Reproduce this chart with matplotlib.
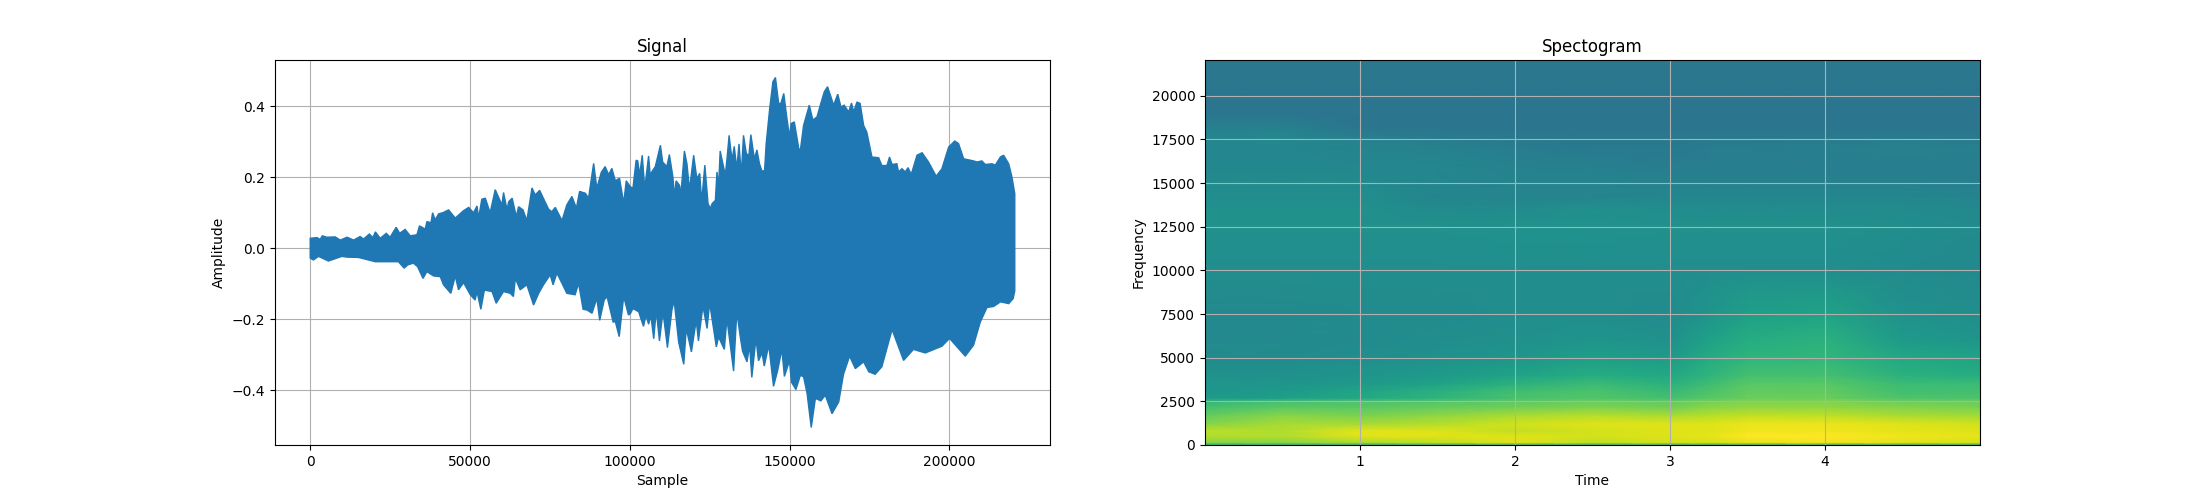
import numpy as np
import matplotlib
matplotlib.use("Agg")
import matplotlib.pyplot as plt

# Signal envelope (sample position in thousands)
upper_pos = [0, 2.1, 3.1, 3.8, 5.2, 7.8, 9.4, 11.5, 13.6, 15.6, 16.7, 18.5, 19.6, 20.4, 21.9, 23.8, 25.0, 26.9, 28.0, 29.7,
             31.3, 33.4, 34.2, 36.0, 36.5, 37.8, 38.3, 39.1, 40.2, 41.5, 43.3, 45.4, 48.0, 49.6, 51.1, 52.2, 52.7, 53.7, 54.8, 56.3,
             57.9, 60.0, 60.5, 61.6, 62.1, 63.2, 64.5, 65.2, 66.6, 67.8, 69.4, 70.4, 71.8, 74.6, 75.6, 76.7, 78.8, 80.3, 81.9, 83.3,
             84.3, 86.1, 87.1, 88.7, 89.7, 91.1, 92.3, 93.4, 94.4, 95.5, 96.8, 98.1, 98.9,
             100.2, 101.0, 102.0, 102.5, 103.1, 103.9, 104.7, 105.9, 106.4, 106.9, 108.0, 109.6, 110.3, 111.6, 112.4, 113.5, 114.0, 114.5, 115.6, 116.0,
             117.1, 117.9, 118.7, 120.0, 121.0, 121.9, 122.5, 123.5, 124.5, 125.2, 125.8, 126.8, 127.3, 127.8, 128.3, 129.9, 130.4, 131.1, 132.0, 132.7,
             133.5, 134.2, 134.9, 135.6, 136.5, 137.3, 137.9, 139.0, 139.8, 140.6, 141.4, 142.2, 142.7, 143.8, 144.8, 145.6, 146.6, 147.3, 148.2, 149.2,
             150.0, 150.5, 151.5, 152.9, 153.4, 154.4, 156.2, 157.3, 158.6, 159.8, 160.9, 161.9, 162.8, 163.8, 165.1, 166.1, 167.1, 168.5, 169.4, 170.1,
             171.1, 172.1, 173.2, 174.2, 175.8, 177.9, 178.9, 180.5, 181.3, 182.1, 183.6, 184.1, 185.2, 186.2, 187.1, 188.1, 189.9, 191.5, 193.5, 195.9,
             197.7, 199.8, 201.7, 202.9, 204.5, 207.6, 208.7, 210.2, 211.3, 213.4, 214.4, 216.0, 217.0, 218.6, 219.6, 220.5]
upper_amp = [.028, .030, .025, .035, .031, .032, .023, .031, .023, .033, .026, .040, .030, .046, .028, .042, .031, .059, .042, .053,
             .035, .038, .063, .054, .075, .072, .100, .080, .097, .100, .108, .085, .106, .115, .100, .119, .085, .138, .141, .100,
             .165, .122, .157, .108, .131, .141, .089, .117, .108, .078, .170, .150, .163, .110, .103, .115, .078, .122, .146, .113,
             .160, .155, .141, .239, .169, .214, .230, .207, .225, .190, .197, .127, .190,
             .173, .169, .248, .246, .206, .262, .169, .260, .206, .215, .230, .290, .243, .230, .264, .201, .145, .190, .177, .149,
             .274, .238, .165, .262, .196, .211, .130, .234, .126, .112, .126, .135, .215, .173, .274, .206, .248, .318, .248, .287,
             .224, .294, .206, .318, .266, .262, .320, .252, .277, .238, .217, .219, .295, .393, .469, .481, .408, .408, .436, .365,
             .314, .351, .356, .281, .276, .346, .403, .361, .370, .408, .441, .455, .431, .403, .434, .398, .403, .384, .409, .384,
             .412, .408, .346, .327, .257, .255, .233, .233, .257, .236, .238, .215, .224, .215, .227, .208, .262, .269, .243, .203,
             .224, .285, .302, .295, .252, .246, .243, .246, .236, .238, .234, .257, .262, .238, .201, .154]

lower_pos = [0, 1.0, 2.6, 5.7, 9.9, 11.5, 15.1, 20.4, 24.5, 27.6, 29.4, 30.5, 32.3, 33.6, 35.3, 36.5, 38.6, 40.7, 41.7, 44.0,
             45.4, 46.4, 48.0, 50.1, 51.6, 52.2, 53.4, 54.5, 56.9, 58.2, 60.5, 62.6, 63.6, 64.2, 65.7, 67.8, 69.9, 71.5, 73.0, 75.1,
             76.0, 77.2, 78.8, 80.3, 82.9, 84.0, 85.4, 86.6, 88.2, 89.7, 90.6, 92.0, 92.9, 94.8, 95.5, 96.7, 98.1, 99.6,
             100.2, 101.0, 102.8, 104.3, 105.1, 105.9, 106.6, 107.5, 108.3, 109.3, 110.4, 111.8, 113.2, 113.9, 115.3, 116.9, 117.7, 119.3, 120.8, 121.5,
             122.9, 124.2, 125.0, 127.1, 127.8, 129.6, 130.4, 132.5, 133.5, 134.6, 135.3, 136.7, 137.5, 138.2, 139.5, 140.3, 141.4, 142.1, 143.5, 145.0,
             146.3, 147.6, 148.4, 150.0, 150.6, 152.0, 153.4, 154.4, 155.5, 156.8, 158.1, 159.8, 161.2, 163.3, 165.4, 166.9, 168.8, 170.6, 173.2, 174.8,
             176.8, 178.9, 182.1, 185.7, 188.8, 192.5, 197.7, 200.1, 205.0, 207.6, 209.7, 211.8, 213.9, 216.0, 218.6, 220.0, 220.5]
lower_amp = [-.028, -.033, -.023, -.036, -.023, -.025, -.026, -.038, -.038, -.038, -.056, -.047, -.042, -.052, -.085, -.066, -.078, -.080, -.103, -.127,
             -.078, -.117, -.097, -.131, -.146, -.122, -.172, -.118, -.122, -.155, -.122, -.127, -.136, -.085, -.117, -.103, -.160, -.127, -.103, -.075,
             -.103, -.070, -.099, -.127, -.131, -.099, -.172, -.174, -.183, -.141, -.203, -.146, -.136, -.208, -.207, -.249, -.136, -.188,
             -.184, -.170, -.179, -.220, -.189, -.214, -.189, -.255, -.175, -.261, -.179, -.280, -.173, -.148, -.264, -.327, -.226, -.292, -.203, -.261,
             -.163, -.226, -.154, -.278, -.250, -.285, -.198, -.346, -.179, -.250, -.290, -.320, -.273, -.364, -.254, -.317, -.295, -.332, -.273, -.389,
             -.344, -.285, -.361, -.317, -.377, -.398, -.358, -.362, -.409, -.505, -.423, -.430, -.414, -.466, -.433, -.355, -.304, -.339, -.320, -.348,
             -.355, -.334, -.229, -.316, -.285, -.295, -.276, -.254, -.304, -.273, -.208, -.167, -.164, -.151, -.156, -.142, -.120]

# Spectrogram levels on the colormap scale, estimated band by band
spec_times = [0, 0.5, 1, 1.5, 2, 2.5, 3, 3.25, 3.5, 4, 4.5, 5]
spec_freqs = [0, 150, 500, 800, 1200, 1700, 2200, 2500, 2700, 3000, 3500, 4000, 5000, 6000, 7500, 10000,
              12500, 13500, 14200, 15000, 16000, 17000, 17600, 18200, 19000, 22050]
spec_levels = [
    [.60, .60, .60, .60, .60, .60, .60, .60, .60, .60, .60, .60],
    [.82, .82, .87, .90, .95, .90, .93, .93, .96, .98, .95, .93],
    [.88, .88, .95, .95, .95, .93, .95, .96, 1.0, 1.0, .98, .96],
    [.90, .88, .96, .95, .91, .93, .95, .95, .98, .98, .96, .95],
    [.82, .87, .87, .89, .93, .95, .95, .95, .97, .97, .95, .93],
    [.76, .82, .80, .83, .87, .89, .87, .89, .91, .90, .87, .86],
    [.70, .74, .74, .76, .78, .80, .78, .82, .83, .83, .81, .79],
    [.66, .70, .72, .73, .75, .77, .76, .79, .81, .81, .77, .77],
    [.54, .56, .60, .65, .71, .73, .70, .74, .77, .77, .72, .72],
    [.53, .55, .59, .64, .70, .72, .68, .72, .76, .76, .70, .70],
    [.52, .52, .54, .58, .64, .68, .64, .69, .74, .74, .68, .68],
    [.50, .50, .52, .54, .58, .62, .60, .65, .70, .70, .64, .62],
    [.48, .48, .49, .51, .52, .56, .54, .61, .65, .66, .60, .58],
    [.47, .47, .48, .49, .50, .52, .50, .57, .62, .64, .54, .52],
    [.47, .47, .48, .48, .49, .49, .48, .52, .56, .58, .51, .49],
    [.49, .49, .49, .49, .49, .49, .49, .49, .49, .49, .48, .47],
    [.50, .50, .50, .50, .51, .51, .50, .50, .50, .50, .49, .48],
    [.50, .50, .50, .48, .48, .50, .49, .48, .48, .48, .48, .47],
    [.49, .49, .49, .45, .45, .45, .46, .46, .46, .46, .46, .45],
    [.48, .48, .48, .46, .45, .45, .44, .44, .44, .44, .44, .43],
    [.46, .46, .46, .46, .44, .43, .42, .42, .42, .42, .42, .42],
    [.46, .46, .45, .44, .42, .41, .41, .42, .42, .43, .44, .43],
    [.46, .47, .43, .42, .41, .40, .40, .41, .41, .41, .42, .41],
    [.43, .43, .39, .39, .39, .39, .39, .39, .39, .39, .39, .39],
    [.39, .39, .39, .39, .39, .39, .39, .39, .39, .39, .39, .39],
    [.40, .40, .40, .40, .40, .40, .40, .40, .40, .40, .40, .40],
]

fig, (ax1, ax2) = plt.subplots(1, 2, figsize=(22, 5))

# Signal
outline_x = np.r_[upper_pos, lower_pos[::-1]] * 1000
outline_y = np.r_[upper_amp, lower_amp[::-1]]
ax1.fill(outline_x, outline_y, color="C0", linewidth=1.0, zorder=2)
ax1.set_title("Signal")
ax1.set_xlabel("Sample")
ax1.set_ylabel("Amplitude")
ax1.grid()

# Spectrogram
ax2.pcolormesh(spec_times, spec_freqs, np.array(spec_levels), shading="gouraud", cmap="viridis", vmin=0, vmax=1)
ax2.set_xlim(0, 5)
ax2.set_ylim(0, 22050)
ax2.set_xticks([1, 2, 3, 4])
ax2.set_title("Spectogram")
ax2.set_xlabel("Time")
ax2.set_ylabel("Frequency")
ax2.grid()

plt.savefig("out.png", dpi=100)
